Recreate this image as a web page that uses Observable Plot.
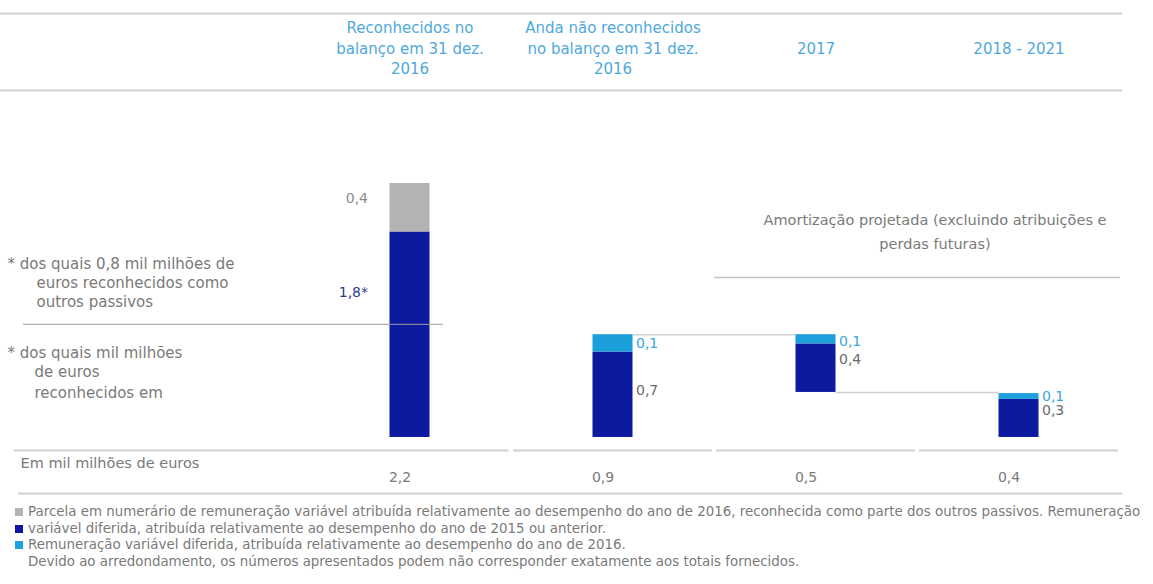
<!DOCTYPE html>
<html><head><meta charset="utf-8">
<script src="https://cdn.jsdelivr.net/npm/d3@7"></script>
<script src="https://cdn.jsdelivr.net/npm/@observablehq/plot@0.6"></script>
<style>
html,body{margin:0;padding:0;background:#fff;overflow:hidden;}
body{width:1153px;height:584px;font-family:"DejaVu Sans",sans-serif;}
#legend{margin-top:4px;font-size:13.4px;color:#7a7a7a;line-height:16.5px;}
.row{position:relative;padding-left:28px;white-space:nowrap;height:16.5px;}
.sw{position:absolute;left:15px;top:4px;width:8px;height:8px;}
</style></head><body><div id="chart"></div><div id="legend"></div>
<script>
// ---- data ----
const columns = ["Reconhecidos no\nbalanço em 31 dez.\n2016", "Anda não reconhecidos\nno balanço em 31 dez.\n2016", "2017", "2018 - 2021"];
const baseValues = [0, 0, 0.39, 0];
const navyValues = [1.78, 0.74, 0.42, 0.33];
const grayValues = [0.42, 0, 0, 0];
const cyanValues = [0, 0.15, 0.08, 0.05];
const navyLabels = ["1,8*", "0,7", "0,4", "0,3"];
const topLabels = ["0,4", "0,1", "0,1", "0,1"];
const totalLabels = ["2,2", "0,9", "0,5", "0,4"];
const seriesNames = ["Diferida 2015 ou anterior", "Numerário 2016", "Diferida 2016"];
const seriesColors = ["#0b1a9e", "#b3b3b3", "#1ba0db"];
const unitLabel = "Em mil milhões de euros";
const amortText = "Amortização projetada (excluindo atribuições e\nperdas futuras)";
const note1 = ["* dos quais 0,8 mil milhões de", "euros reconhecidos como", "outros passivos"];
const note2 = ["* dos quais mil milhões", "de euros", "reconhecidos em"];
const legendTexts = [
  "Parcela em numerário de remuneração variável atribuída relativamente ao desempenho do ano de 2016, reconhecida como parte dos outros passivos. Remuneração",
  "variável diferida, atribuída relativamente ao desempenho do ano de 2015 ou anterior.",
  "Remuneração variável diferida, atribuída relativamente ao desempenho do ano de 2016.",
  "Devido ao arredondamento, os números apresentados podem não corresponder exatamente aos totais fornecidos."
];
const legendColors = ["#b3b3b3", "#0b1a9e", "#1ba0db", null];

// ---- build segments (stacked from base) ----
const segments = [];
columns.forEach((c, i) => {
  let y = baseValues[i];
  [[seriesNames[0], navyValues[i]], [seriesNames[1], grayValues[i]], [seriesNames[2], cyanValues[i]]].forEach(([s, v]) => {
    if (v > 0) { segments.push({col: c, series: s, y1: y, y2: y + v}); y += v; }
  });
});
const topOf = i => baseValues[i] + navyValues[i] + grayValues[i] + cyanValues[i];

const step = 203, barW = 40, inset = (step - barW) / 2;
const gray = "#7a7a7a";
const marks = [];

// header table lines + headers
marks.push(Plot.ruleY([3.673, 3.006], {stroke: "#d2d2d2", strokeWidth: 2}));
marks.push(Plot.text(columns, {x: d => d, y: 3.38, text: d => d, fill: "#4ea9dd", fontSize: 15, lineHeight: 1.37}));

// amortization header
marks.push(Plot.text([amortText], {x: () => columns[3], y: 1.80, dx: -84, text: d => d, fill: gray, fontSize: 14.5, lineHeight: 1.6}));
marks.push(Plot.ruleY([1.386], {x1: () => columns[2], x2: () => columns[3], stroke: "#c4c4c4", strokeWidth: 1.5}));

// left notes
const noteY1 = [1.498, 1.334, 1.169], noteY2 = [0.728, 0.563, 0.381];
note1.forEach((t, k) => marks.push(Plot.text([t], {frameAnchor: "left", y: noteY1[k], dx: k ? 36 : 7, textAnchor: "start", text: d => d, fill: gray, fontSize: 15})));
note2.forEach((t, k) => marks.push(Plot.text([t], {frameAnchor: "left", y: noteY2[k], dx: k ? 34 : 7, textAnchor: "start", text: d => d, fill: gray, fontSize: 15})));

// connectors
marks.push(Plot.ruleY([{a: columns[1], b: columns[2], y: topOf(1)}, {a: columns[2], b: columns[3], y: baseValues[2]}],
  {x1: "a", x2: "b", y: "y", insetLeft: inset + barW, insetRight: inset + barW, stroke: "#d0d0d0", strokeWidth: 1.5}));

// bars
marks.push(Plot.rectY(segments, {x: "col", y1: "y1", y2: "y2", fill: "series", insetLeft: inset, insetRight: inset}));

// separator line between the two notes (crosses the first bar faintly)
marks.push(Plot.ruleY([0.98], {insetLeft: 23, insetRight: 679, stroke: "#9c9c9c", strokeWidth: 1.2, strokeOpacity: 0.8}));

// segment labels
const topDy = [-9, 0, 2, 0], navyDy = [-42, -4, -9, -8];
columns.forEach((c, i) => {
  const left = i === 0;
  const dx = left ? -(barW / 2 + 22) : barW / 2 + 3;
  const anchor = left ? "end" : "start";
  const topSeg = segments.filter(s => s.col === c && s.series !== seriesNames[0])[0];
  const navySeg = segments.filter(s => s.col === c && s.series === seriesNames[0])[0];
  marks.push(Plot.text([topLabels[i]], {x: () => c, y: (topSeg.y1 + topSeg.y2) / 2, dx, dy: topDy[i], textAnchor: anchor, text: d => d, fill: left ? "#8c8c8c" : "#3ba6de", fontSize: 14}));
  marks.push(Plot.text([navyLabels[i]], {x: () => c, y: (navySeg.y1 + navySeg.y2) / 2, dx, dy: navyDy[i], textAnchor: anchor, text: d => d, fill: left ? "#2d3b8e" : "#6a6a6a", fontSize: 14}));
});

// bottom table
marks.push(Plot.ruleY([-0.113], {insetLeft: 14, insetRight: 613.5, stroke: "#d0d0d0", strokeWidth: 2}));
marks.push(Plot.ruleY(columns.slice(1), {x1: d => d, x2: d => d, y: () => -0.113, insetLeft: 2, insetRight: 2, stroke: "#d0d0d0", strokeWidth: 2}));
marks.push(Plot.ruleY([-0.485], {insetLeft: 18, stroke: "#d0d0d0", strokeWidth: 2}));
marks.push(Plot.text([unitLabel], {frameAnchor: "left", y: -0.225, dx: 20, textAnchor: "start", text: d => d, fill: gray, fontSize: 14.5}));
marks.push(Plot.text(columns, {x: d => d, y: -0.35, dx: -10, text: (d, i) => totalLabels[i], fill: gray, fontSize: 14}));

const chart = Plot.plot({
  width: 1153, height: 500,
  marginTop: 0, marginBottom: 0, marginLeft: 0, marginRight: 31,
  style: {fontFamily: '"DejaVu Sans", sans-serif', background: "#fff", color: gray, overflow: "visible"},
  x: {type: "band", domain: columns, range: [307.5, 1119.5], padding: 0, axis: null},
  y: {domain: [-0.546, 3.785], axis: null},
  color: {domain: seriesNames, range: seriesColors},
  marks
});
document.getElementById("chart").appendChild(chart);

// legend
const lg = document.getElementById("legend");
legendTexts.forEach((t, i) => {
  const row = document.createElement("div");
  row.className = "row";
  if (legendColors[i]) {
    const sw = document.createElement("span");
    sw.className = "sw";
    sw.style.background = legendColors[i];
    row.appendChild(sw);
  }
  row.appendChild(document.createTextNode(t));
  lg.appendChild(row);
});
</script></body></html>
